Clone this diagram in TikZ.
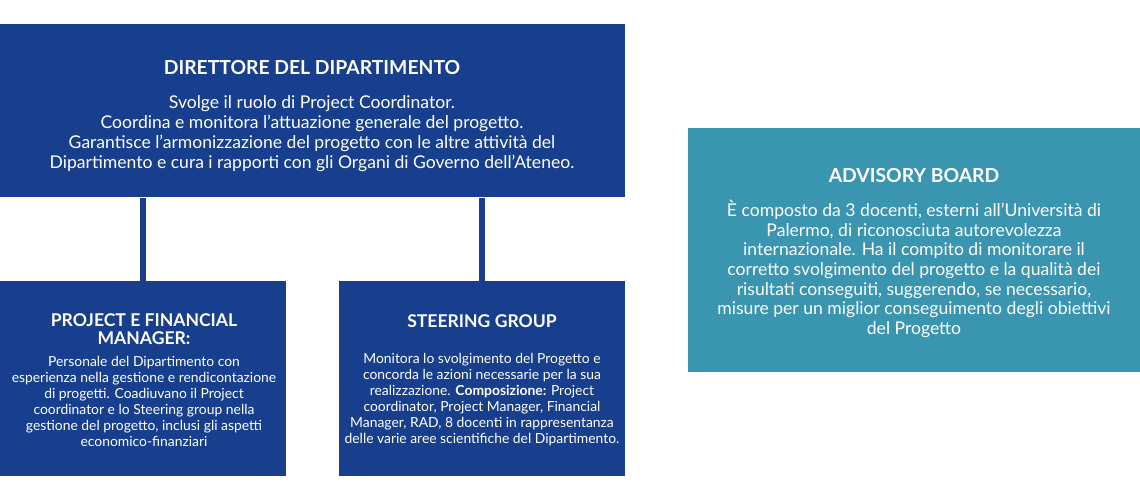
\documentclass[tikz,border=0pt]{standalone}
\usepackage{fontspec}
\setmainfont{Lato}
\usetikzlibrary{positioning}
\definecolor{navy}{HTML}{173F8E}
\definecolor{teal}{HTML}{3A95B1}
\tikzset{
  box/.style={fill=#1, inner sep=0pt, anchor=north west},
  title/.style={text=white, font=\bfseries\fontsize{11}{11}\selectfont, align=center},
  body/.style={text=white, align=center, inner sep=0pt},
  bar/.style={draw=navy, line width=3.4pt}
}
\begin{document}
\begin{tikzpicture}[x=0.02cm,y=-0.02cm]
    \useasboundingbox (0,0) rectangle (1140,501);
    % boxes
    \node[box=navy, minimum width=12.5cm, minimum height=3.46cm] (dir) at (0,24) {};
    \node[box=navy, minimum width=5.72cm, minimum height=3.9cm] (proj) at (0,281) {};
    \node[box=navy, minimum width=5.72cm, minimum height=3.9cm] (steer) at (339,281) {};
    \node[box=teal, minimum width=9.04cm, minimum height=4.88cm] (adv) at (688,128) {};
    % connectors
    \draw[bar] (proj.north) -- (proj.north |- dir.south);
    \draw[bar] (steer.north) -- (steer.north |- dir.south);
    % texts
    \node[title] (dirT) at (312,68) {DIRETTORE DEL DIPARTIMENTO};
    \node[body, font=\fontsize{10}{11.4}\selectfont, below=8pt of dirT]
        {Svolge il ruolo di Project Coordinator.\\
         Coordina e monitora l'attuazione generale del progetto.\\
         Garantisce l'armonizzazione del progetto con le altre attività del\\
         Dipartimento e cura i rapporti con gli Organi di Governo dell'Ateneo.};
    \node[title, font=\bfseries\fontsize{10}{10}\selectfont] (projT) at (144,329) {PROJECT E FINANCIAL\\MANAGER:};
    \node[body, font=\fontsize{7.9}{9.1}\selectfont, below=3pt of projT]
        {Personale del Dipartimento con\\
         esperienza nella gestione e rendicontazione\\
         di progetti. Coadiuvano il Project\\
         coordinator e lo Steering group nella\\
         gestione del progetto, inclusi gli aspetti\\
         economico-finanziari};
    \node[title, font=\bfseries\fontsize{10}{10}\selectfont] (steerT) at (482,321) {STEERING GROUP};
    \node[body, font=\fontsize{7.9}{9.1}\selectfont, below=11pt of steerT]
        {Monitora lo svolgimento del Progetto e\\
         concorda le azioni necessarie per la sua\\
         realizzazione. \textbf{Composizione:} Project\\
         coordinator, Project Manager, Financial\\
         Manager, RAD, 8 docenti in rappresentanza\\
         delle varie aree scientifiche del Dipartimento.};
    \node[title] (advT) at (914,176) {ADVISORY BOARD};
    \node[body, font=\fontsize{10}{11.2}\selectfont, below=6pt of advT]
        {È composto da 3 docenti, esterni all'Università di\\
         Palermo, di riconosciuta autorevolezza\\
         internazionale. Ha il compito di monitorare il\\
         corretto svolgimento del progetto e la qualità dei\\
         risultati conseguiti, suggerendo, se necessario,\\
         misure per un miglior conseguimento degli obiettivi\\
         del Progetto};
\end{tikzpicture}
\end{document}
